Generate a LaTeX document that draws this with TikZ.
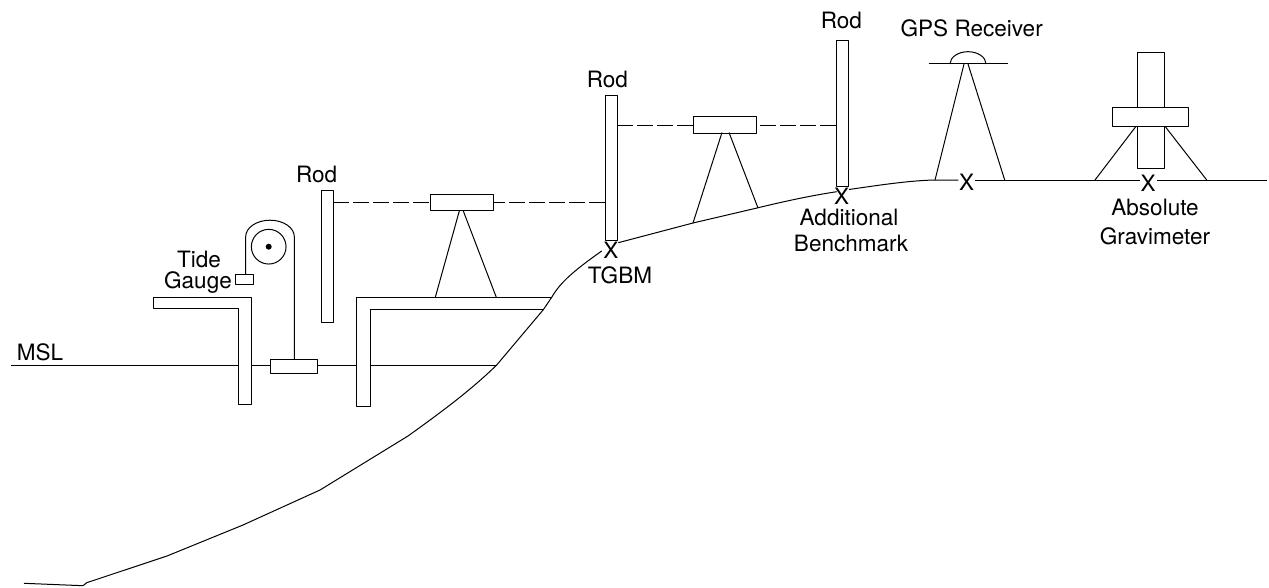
\documentclass[tikz,border=0pt]{standalone}
\usepackage{fontspec}
\setmainfont{TeX Gyre Heros}
\usetikzlibrary{positioning}
\tikzset{
    % sight line of the levelling
    sight/.style={
           draw,
           dash pattern=on 12pt off 3pt,}
}
\newcommand{\rodwidth}{9pt}
\newcommand{\levelwidth}{47.5pt}
\newcommand{\levelheight}{12.5pt}

\begin{document}
\begin{tikzpicture}[x=0.75pt, y=-0.75pt, node distance=0 cm,outer sep = 0pt, line width=0.75pt, line join=round]
\tikzstyle{rod}=[draw, rectangle, minimum width=\rodwidth, inner sep=0pt, fill=white, anchor=north west]
\tikzstyle{level}=[draw, rectangle, minimum height=\levelheight, minimum width=\levelwidth, inner sep=0pt, fill=white, anchor=north west]
\tikzstyle{label}=[font=\fontsize{16.9}{20}\selectfont, inner sep=0pt]
\useasboundingbox (0,0) rectangle (1269,588);

% ground and sea level
\draw (24,583.3) -- (83,585.7) -- (86.7,582.7) -- (167,556) -- (243,525) -- (320,490)
   -- (408,436) .. controls (440,413) and (470,391) .. (496.7,365) -- (543.3,309.7) -- (551.7,297.3)
   .. controls (560,283) and (572,272) .. (601.7,251);
\draw (618.3,242.7) -- (693,223) -- (757,208) .. controls (790,200) and (815,195) .. (836.7,191.7);
\draw (849,189.5) .. controls (880,185) and (910,180.5) .. (935,180) -- (958.3,180);
\draw (975,180) -- (1140,180);
\draw (1156.7,180) -- (1266.7,180);
\draw (11,365.3) -- (238.3,365.3);
\draw (251.3,365.3) -- (270.3,365.3);
\draw (317.3,365.3) -- (356.7,365.3);
\draw (370,365.3) -- (496.7,365.3);

% walls
\draw (153.3,297.7) -- (251.3,297.7) -- (251.3,404.3) -- (238.3,404.3) -- (238.3,308.7) -- (153.3,308.7) -- cycle;
\draw (551.7,297.3) -- (356.7,297.3) -- (356.7,406) -- (370,406) -- (370,309.7) -- (543.3,309.7);

% tide gauge
\node[level, minimum width=35.2pt, minimum height=11pt] (float) at (270.3,359.3) {};
\node[level, minimum width=13.2pt, minimum height=8pt] (weight) at (235.7,274) {};
\node[draw, circle, minimum size=26pt, inner sep=0pt] (drum) at (268.7,246.7) {};
\node[circle, fill=black, minimum size=4.5pt, inner sep=0pt] (axle) at (drum.center) {};
\draw (weight.north -| 245.7,0) -- (245.7,236.7) arc[start angle=180, end angle=360, x radius=24.3, y radius=16.5] -- (float.north -| 294.3,0);
\node[label] (tide) at (199,259) {Tide};
\node[label] (gauge) at (198,283) {Gauge};

% rods
\node[rod, minimum height=99pt] (rod1) at (321.3,190.7) {};
\node[rod, minimum height=108pt] (rod2) at (605.3,96) {};
\node[rod, minimum height=108.8pt] (rod3) at (836.7,41) {};
\node[label] (rodtext1) [above = 6pt of rod1, xshift=-8pt] {Rod};
\node[label] (rodtext2) [above = 6pt of rod2, xshift=-3pt] {Rod};
\node[label] (rodtext3) [above = 9pt of rod3, xshift=-1pt] {Rod};

% first level
\node[level] (level1) at (430.3,194.3) {};
\draw[sight] (rod1.east |- level1.west) -- (level1.west);
\draw[sight, dash phase=3.3pt] (level1.east) -- (rod2.west |- level1.east);
\coordinate (foot1a) at (435.3,297.3);
\coordinate (foot1b) at (496.3,297.3);
\draw (459.3,211) -- (foot1a);
\draw (463.3,211) -- (foot1b);

% second level
\node[level] (level2) at (693,117) {};
\draw[sight] (rod2.east |- level2.west) -- (level2.west);
\draw[sight, dash phase=12.2pt] (level2.east) -- (rod3.west |- level2.east);
\coordinate (foot2a) at (693,223);
\coordinate (foot2b) at (758,208);
\draw (722,132.5) -- (foot2a);
\draw (729,132.5) -- (foot2b);

% GPS receiver
\coordinate (plateleft) at (928.7,64);
\coordinate (plateright) at (1008,64);
\draw (plateleft) -- (plateright);
\draw (950,64) arc[start angle=180, end angle=360, x radius=18, y radius=12.3];
\draw (964,64) -- (935,180);
\draw (968,64) -- (1004.7,180);
\node[label] (gpstext) at (971.7,28.3) {GPS Receiver};

% gravimeter
\node[rod, minimum width=20.2pt, minimum height=87.5pt] (column) at (1137.3,52.3) {};
\node[level, minimum width=57.3pt, minimum height=14.2pt] (collar) at (1112.3,107.3) {};
\draw (1136,126.3) -- (1095,180);
\draw (1165,126.3) -- (1206.7,180);

% marks and labels
\node[label] (mark1) at (611,250) {X};
\node[label] (mark2) at (841.7,196) {X};
\node[label] (mark3) at (966.7,182.7) {X};
\node[label] (mark4) at (1148,183) {X};
\node[label] (tgbm) at (620,275) {TGBM};
\node[label] (additional) at (849,217) {Additional};
\node[label] (benchmark) at (851,243) {Benchmark};
\node[label] (absolute) at (1155,207) {Absolute};
\node[label] (gravimeter) at (1155,236) {Gravimeter};
\node[label] (msl) at (40,352) {MSL};

\end{tikzpicture}
\end{document}
